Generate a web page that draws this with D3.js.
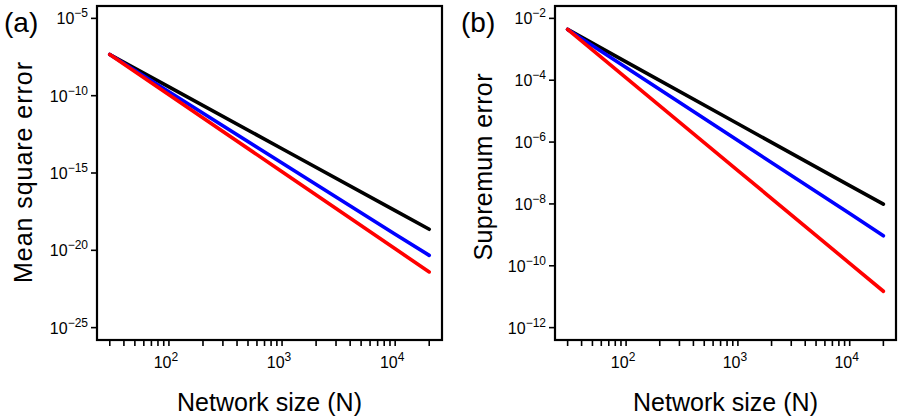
<!DOCTYPE html>
<html><head><meta charset="utf-8">
<script src="https://cdn.jsdelivr.net/npm/d3@7"></script>
<style>
html,body{margin:0;padding:0;background:#fff;}
svg{display:block;font-family:"Liberation Sans",Arial,Helvetica,sans-serif;}
</style></head>
<body><svg id="c" width="898" height="419"></svg>
<script>
// Network sizes
const sizes = [30, 100, 1000, 10000, 20000];
// Panel (a): mean square error
const mseBlack = [4.6e-8, 3.7e-10, 3.7e-14, 3.7e-18, 2.3e-19];
const mseBlue  = [4.6e-8, 1.8e-10, 4.5e-15, 1.1e-19, 4.7e-21];
const mseRed   = [4.6e-8, 1.15e-10, 1.2e-15, 1.25e-20, 4.0e-22];
// Panel (b): supremum error
const supBlack = [4.4e-3, 3.9e-4, 3.9e-6, 3.9e-8, 9.8e-9];
const supBlue  = [4.4e-3, 2.6e-4, 1.12e-6, 4.9e-9, 9.3e-10];
const supRed   = [4.4e-3, 1.2e-4, 1.2e-7, 1.2e-10, 1.5e-11];
// Tick exponents
const xMajorExp = [2, 3, 4];
const xMinorTicks = [30,40,50,60,70,80,90,100,200,300,400,500,600,700,800,900,1000,2000,3000,4000,5000,6000,7000,8000,9000,10000,20000];
const yExpA = [-5, -10, -15, -20, -25];
const yExpB = [-2, -4, -6, -8, -10, -12];

const svg = d3.select("#c");
const colors = ["#000000", "#0000ff", "#ff0000"];

function panel(opt) {
  const {x0, x1, y0, y1, ylim, series, yExp, ylabel, letter, ylabelX, ylabelY, ylabelLen, letterX} = opt;
  const lx = Math.log10(30), hx = Math.log10(20000), ex = (hx - lx) * 0.04;
  const x = d3.scaleLog().domain([Math.pow(10, lx - ex), Math.pow(10, hx + ex)]).range([x0, x1]);
  const ly = ylim[0], hy = ylim[1], ey = (hy - ly) * 0.04;
  const y = d3.scaleLog().domain([Math.pow(10, ly - ey), Math.pow(10, hy + ey)]).range([y1, y0]);
  const g = svg.append("g");

  const line = d3.line().x((d) => x(d[0])).y((d) => y(d[1]));
  series.forEach((s, i) => {
    g.append("path").datum(sizes.map((n, j) => [n, s[j]]))
      .attr("d", line).attr("fill", "none").attr("stroke", colors[i])
      .attr("stroke-width", 3.6).attr("stroke-linecap", "round");
  });

  g.append("rect").attr("x", x0).attr("y", y0).attr("width", x1 - x0).attr("height", y1 - y0)
    .attr("fill", "none").attr("stroke", "#000").attr("stroke-width", 2.2);

  // x ticks
  g.selectAll(".xt").data(xMinorTicks).enter().append("line")
    .attr("x1", (d) => x(d)).attr("x2", (d) => x(d)).attr("y1", y1 + 1).attr("y2", y1 + 6)
    .attr("stroke", "#000").attr("stroke-width", 1.6);
  xMajorExp.forEach((e) => {
    const t = g.append("text").attr("x", x(Math.pow(10, e)) - 3).attr("y", y1 + 28)
      .attr("text-anchor", "middle").attr("font-size", 16);
    t.append("tspan").text("10");
    t.append("tspan").attr("dy", -7).attr("font-size", 12).text(e);
  });
  // y ticks
  yExp.forEach((e) => {
    const yy = y(Math.pow(10, e));
    g.append("line").attr("x1", x0 - 6).attr("x2", x0).attr("y1", yy).attr("y2", yy)
      .attr("stroke", "#000").attr("stroke-width", 1.6);
    const t = g.append("text").attr("x", x0 - 9).attr("y", yy + 6)
      .attr("text-anchor", "end").attr("font-size", 16);
    t.append("tspan").text("10");
    t.append("tspan").attr("dy", -7).attr("font-size", 12).text("\u2212" + Math.abs(e));
  });

  g.append("text").attr("x", (x0 + x1) / 2).attr("y", 411).attr("text-anchor", "middle")
    .attr("font-size", 25).attr("textLength", 185).text("Network size (N)");
  g.append("text").attr("transform", `translate(${ylabelX},${ylabelY}) rotate(-90)`)
    .attr("text-anchor", "middle").attr("font-size", 25).attr("textLength", ylabelLen)
    .text(ylabel);
  g.append("text").attr("x", letterX).attr("y", 32).attr("font-size", 28).text(letter);
}

panel({x0: 97, x1: 442, y0: 6, y1: 340, ylim: [-25, -5],
  series: [mseBlack, mseBlue, mseRed], yExp: yExpA, ylabel: "Mean square error",
  letter: "(a)", ylabelX: 31.5, ylabelY: 172.5, ylabelLen: 221, letterX: 4});
panel({x0: 555, x1: 896, y0: 6, y1: 340, ylim: [-12, -2],
  series: [supBlack, supBlue, supRed], yExp: yExpB, ylabel: "Supremum error",
  letter: "(b)", ylabelX: 491.5, ylabelY: 167, ylabelLen: 187, letterX: 461});
</script></body></html>
